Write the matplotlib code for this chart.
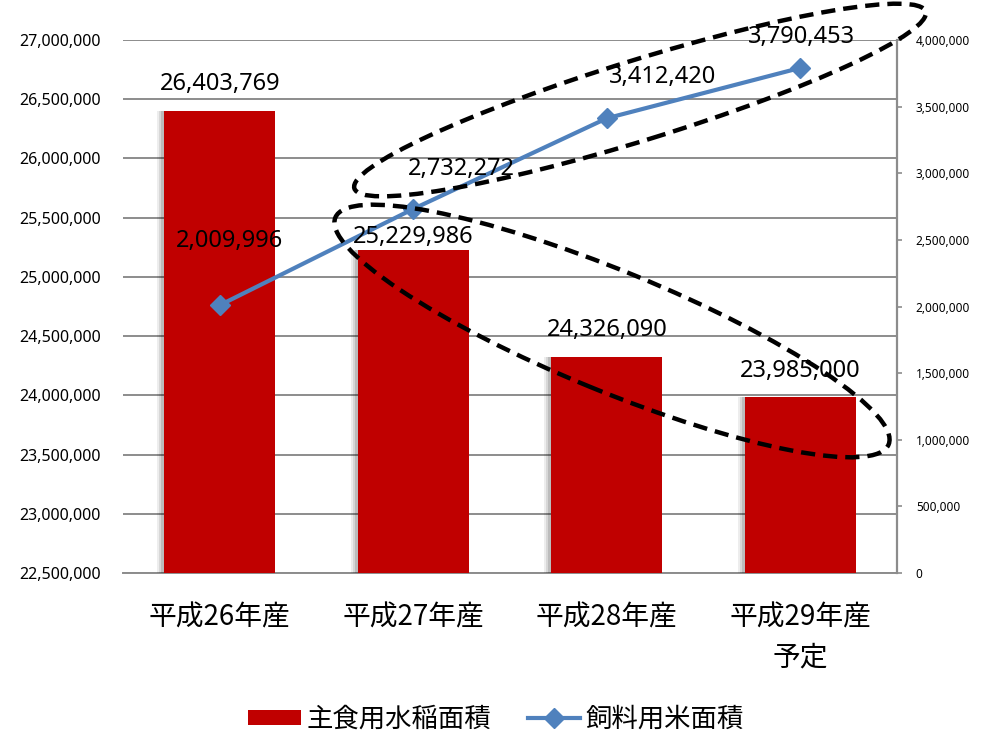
import matplotlib
matplotlib.use("Agg")
import matplotlib.pyplot as plt
import matplotlib.transforms as mtransforms
from matplotlib.patches import Ellipse, Patch
from matplotlib.lines import Line2D
from matplotlib.ticker import FuncFormatter
import matplotlib.patheffects as pe

# ---- data ----
categories = ["平成26年産", "平成27年産", "平成28年産", "平成29年産\n予定"]
staple_rice_area = [26403769, 25229986, 24326090, 23985000]
feed_rice_area = [2009996, 2732272, 3412420, 3790453]
series_names = ["主食用水稲面積", "飼料用米面積"]
left_ticks = [22500000 + 500000 * i for i in range(10)]
right_ticks = [500000 * i for i in range(9)]

# ---- style ----
RED = "#C00000"
BLUE = "#4F81BD"
GRID = "#8C8C8C"
NUM_FONT = ["Noto Sans", "DejaVu Sans"]
JP_FONT = ["Noto Sans CJK JP", "DejaVu Sans"]
bar_label_offsets = [(0, 19), (0, 9), (0, 19), (0, 19)]          # points
line_label_offsets = [(7, 46), (35, 29), (40, 30), (1, 22)]       # points

fig = plt.figure(figsize=(9.84, 7.31), dpi=100)
ax = fig.add_axes([0.125, 0.2161, 0.7866, 0.7292])
ax2 = ax.twinx()

x = list(range(len(categories)))

shadow = [pe.SimplePatchShadow(offset=(-5, 0), shadow_rgbFace="k", alpha=0.07),
          pe.SimplePatchShadow(offset=(-3.5, 0), shadow_rgbFace="k", alpha=0.09),
          pe.SimplePatchShadow(offset=(-2, 0), shadow_rgbFace="k", alpha=0.12),
          pe.Normal()]
bars = ax.bar(x, staple_rice_area, width=0.575, color=RED, zorder=3)
for b in bars:
    b.set_path_effects(shadow)

ax.set_xlim(-0.5, len(categories) - 0.5)
ax.set_ylim(left_ticks[0], left_ticks[-1])
ax.set_yticks(left_ticks)
ax.yaxis.set_major_formatter(FuncFormatter(lambda v, p: f"{int(v):,}"))
ax.grid(axis="y", color=GRID, linewidth=1.4, zorder=0)
ax.set_axisbelow(True)
ax.tick_params(axis="y", length=0, pad=16, labelsize=11.5)
for lbl in ax.get_yticklabels():
    lbl.set_fontfamily(NUM_FONT)
ax.set_xticks(x)
ax.set_xticklabels(categories, fontfamily=JP_FONT, fontsize=20, linespacing=1.45)
ax.tick_params(axis="x", length=0, pad=21)
for s in ["left", "top", "right"]:
    ax.spines[s].set_visible(False)
ax.spines["bottom"].set_color(GRID)
ax.spines["bottom"].set_linewidth(1.4)

ax2.plot(x, feed_rice_area, color=BLUE, linewidth=3, marker="D", markersize=10,
         zorder=4)
ax2.set_ylim(right_ticks[0], right_ticks[-1])
ax2.set_yticks(right_ticks)
ax2.yaxis.set_major_formatter(FuncFormatter(lambda v, p: f"{int(v):,}"))
ax2.tick_params(axis="y", length=3.5, width=1.2, color=GRID, pad=10, labelsize=8.5)
for lbl in ax2.get_yticklabels():
    lbl.set_fontfamily(NUM_FONT)
for s in ["left", "top", "bottom"]:
    ax2.spines[s].set_visible(False)
ax2.spines["right"].set_color(GRID)
ax2.spines["right"].set_linewidth(1.6)

# data labels
for xi, v, off in zip(x, staple_rice_area, bar_label_offsets):
    ax2.annotate(f"{v:,}", xy=(xi, v), xycoords=ax.transData, xytext=off,
                 textcoords="offset points", ha="center", va="center",
                 fontsize=17, fontfamily=NUM_FONT, zorder=6)
for xi, v, off in zip(x, feed_rice_area, line_label_offsets):
    ax2.annotate(f"{v:,}", xy=(xi, v), xycoords=ax2.transData, xytext=off,
                 textcoords="offset points", ha="center", va="center",
                 fontsize=17, fontfamily=NUM_FONT, zorder=6)

# dashed highlight ellipses (pixel coordinates of the canvas)
H = 731
ident = mtransforms.IdentityTransform()
for (cx, cy, w, h, ang) in [(640, 100, 598, 80, 17.2), (612, 331, 598, 120, -22.3)]:
    e = Ellipse((cx, H - cy), w, h, angle=ang, fill=False, edgecolor="black",
                linewidth=3.2, linestyle=(0, (3.2, 1.8)), transform=ident,
                clip_on=False, zorder=10)
    fig.add_artist(e)

# legend
handles = [Patch(facecolor=RED, edgecolor="none"),
           Line2D([0], [0], color=BLUE, linewidth=3, marker="D", markersize=10)]
fig.legend(handles, series_names, loc="center", bbox_to_anchor=(496 / 984, 1 - 719 / 731),
           ncol=2, frameon=False, prop={"family": JP_FONT, "size": 19},
           handlelength=2.0, handleheight=0.5, handletextpad=0.2, columnspacing=1.4)

fig.savefig("out.png", dpi=100)
